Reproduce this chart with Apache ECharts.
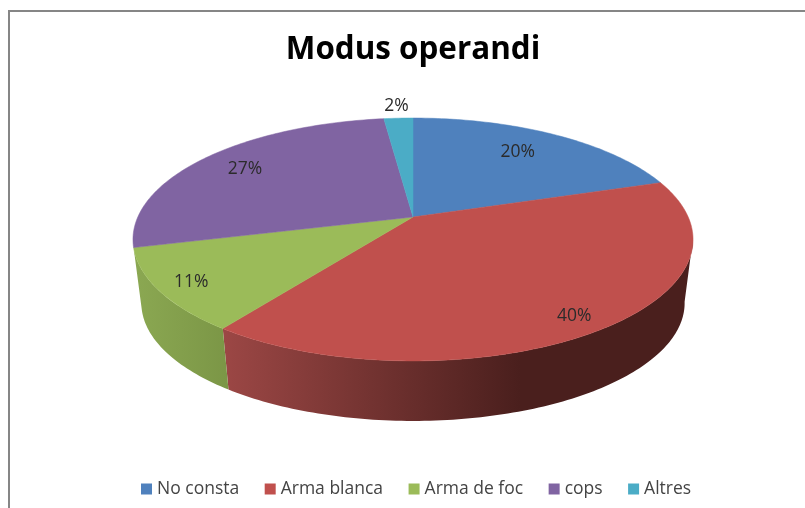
<!DOCTYPE html>
<html>
<head>
<meta charset="utf-8">
<style>
  html, body { margin: 0; padding: 0; background: #fff; }
  #main { width: 805px; height: 508px; }
</style>
<script src="https://cdn.jsdelivr.net/npm/echarts@6/dist/echarts.min.js"></script>
</head>
<body>
<div id="main"></div>
<script>
const categories = ["No consta", "Arma blanca", "Arma de foc", "cops", "Altres"];
const percentages = [20, 40, 11, 27, 2];

const colors = ["#4f81bd", "#c0504d", "#9bbb59", "#8064a2", "#4bacc6"];
// label distance from the pie centre, 1 = rim
const labelRadius = [0.76, 0.885, 0.885, 0.8, 1.16];
// label nudge around the pie, degrees
const labelTurn = [-2, 1, 0, 0, 0];
// wall shading per slice, left to right
const wallShades = [
  ["#3a5f8c", "#3a5f8c"],
  ["#9c4745", "#4a1f1d"],
  ["#8ba852", "#7b9646"],
  ["#6b5488", "#6b5488"],
  ["#3a8aa0", "#3a8aa0"],
];

// tilted disc: perspective projection of the unit circle
const cx = 413, cy = 217;
const A = 275.2, B = 117.3, K = 0.185;
const wallScale = 0.97, wallDrop = 64.3;
const wallFrom = 100, wallTo = 255.5;

function project(deg, r, scale, drop) {
  const t = (deg * Math.PI) / 180;
  const x = r * Math.sin(t);
  const y = r * Math.cos(t);
  const w = 1 + K * y;
  return [cx + (scale * A * x) / w, cy + drop - (scale * B * y) / w];
}

function arc(from, to, scale, drop) {
  const pts = [];
  const n = Math.max(2, Math.ceil(Math.abs(to - from)));
  for (let i = 0; i <= n; i++) {
    pts.push(project(from + ((to - from) * i) / n, 1, scale, drop));
  }
  return pts;
}

// start and end angle of each slice, from the values
const total = percentages.reduce((a, b) => a + b, 0);
let running = 0;
const slices = percentages.map((v) => {
  const start = (running / total) * 360;
  running += v;
  return [start, (running / total) * 360, v];
});

function renderWall(params, api) {
  const i = params.dataIndex;
  const from = Math.max(api.value(0), wallFrom);
  const to = Math.min(api.value(1), wallTo);
  if (to <= from) return { type: "group", children: [] };
  const top = arc(from, to, 1, 0);
  const bottom = arc(to, from, wallScale, wallDrop);
  const xs = top.concat(bottom).map((p) => p[0]);
  // red wall reaches its darkest tone before the right edge
  const x0 = Math.min.apply(null, xs);
  const x1 = i === 1 ? 520 : Math.max.apply(null, xs);
  return {
    type: "polygon",
    shape: { points: top.concat(bottom) },
    style: {
      fill: new echarts.graphic.LinearGradient(
        x0, 0, x1, 0,
        [
          { offset: 0, color: wallShades[i][0] },
          { offset: 1, color: wallShades[i][1] },
        ],
        true
      ),
    },
  };
}

function renderTop(i) {
  return function (params, api) {
    const from = api.value(0);
    const to = api.value(1);
    const mid = (from + to) / 2 + labelTurn[i];
    const pos = project(mid, labelRadius[i], 1, 0);
    return {
      type: "group",
      children: [
        {
          type: "polygon",
          shape: { points: [[cx, cy]].concat(arc(from, to, 1, 0)) },
          style: { fill: colors[i], stroke: colors[i], lineWidth: 0.5 },
        },
        {
          type: "text",
          z2: 10,
          style: {
            x: pos[0],
            y: pos[1] + 1,
            text: api.value(2) + "%",
            fill: "#2b2b2b",
            font: '17.5px "Open Sans"',
            textAlign: "center",
            textVerticalAlign: "middle",
          },
        },
      ],
    };
  };
}

const chart = echarts.init(document.getElementById("main"));

const series = [
  {
    type: "custom",
    name: "walls",
    coordinateSystem: "none",
    silent: true,
    z: 1,
    renderItem: renderWall,
    data: slices,
  },
];
categories.forEach((name, i) => {
  series.push({
    type: "custom",
    name: name,
    coordinateSystem: "none",
    silent: true,
    z: 2,
    itemStyle: { color: colors[i] },
    renderItem: renderTop(i),
    data: [slices[i]],
  });
});

chart.setOption({
  animation: false,
  title: {
    text: "Modus operandi",
    left: 408,
    top: 30,
    textAlign: "center",
    textStyle: {
      fontFamily: "Open Sans",
      fontWeight: "bold",
      fontSize: 31.4,
      color: "#000",
    },
  },
  legend: {
    data: categories,
    left: 136,
    top: 475,
    icon: "rect",
    itemWidth: 11,
    itemHeight: 11,
    itemGap: 25.5,
    selectedMode: false,
    textStyle: {
      fontFamily: "Open Sans",
      fontSize: 17.5,
      color: "#444",
    },
  },
  graphic: [
    {
      type: "polyline",
      silent: true,
      shape: { points: [[9, 508], [9, 11], [805, 11]] },
      style: { stroke: "#868686", lineWidth: 2, fill: null },
    },
  ],
  series: series,
});
</script>
</body>
</html>
